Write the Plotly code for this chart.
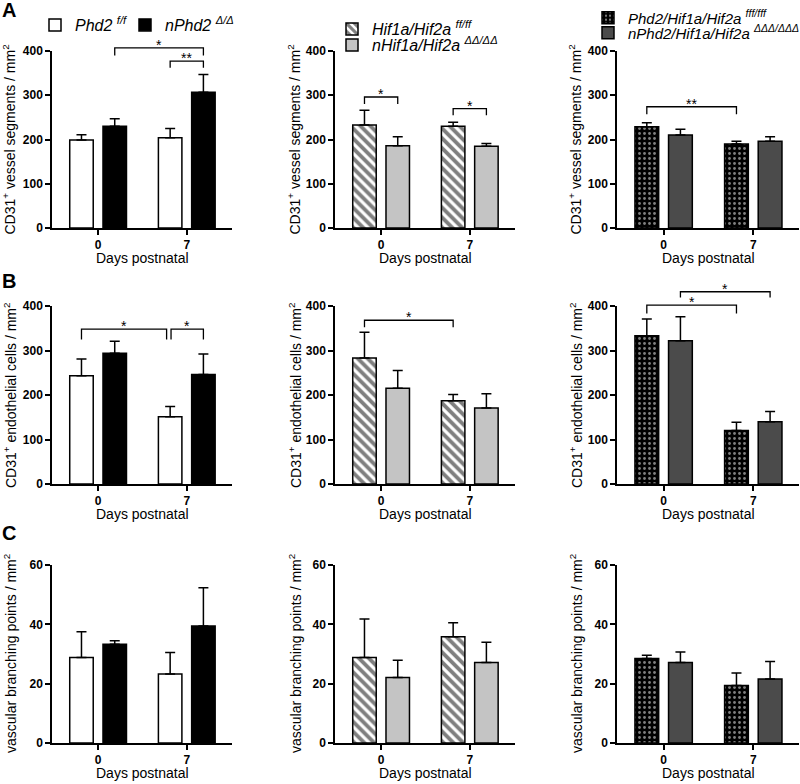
import plotly.graph_objects as go

# ---------------- data ----------------
days = ["0", "7"]

# Row A: CD31+ vessel segments / mm2
a_phd2_ff, a_phd2_ff_err = [199, 204], [12, 21]
a_nphd2, a_nphd2_err = [230, 307], [17, 40]
a_hif_ff, a_hif_ff_err = [233, 230], [33, 9]
a_nhif, a_nhif_err = [186, 185], [20, 6]
a_tko_ff, a_tko_ff_err = [229, 190], [9, 6]
a_ntko, a_ntko_err = [210, 196], [13, 10]

# Row B: CD31+ endothelial cells / mm2
b_phd2_ff, b_phd2_ff_err = [243, 151], [38, 23]
b_nphd2, b_nphd2_err = [294, 246], [27, 46]
b_hif_ff, b_hif_ff_err = [283, 187], [58, 14]
b_nhif, b_nhif_err = [215, 171], [40, 32]
b_tko_ff, b_tko_ff_err = [333, 120], [38, 19]
b_ntko, b_ntko_err = [322, 140], [54, 23]

# Row C: vascular branching points / mm2
c_phd2_ff, c_phd2_ff_err = [28.8, 23.3], [8.7, 7.2]
c_nphd2, c_nphd2_err = [33.3, 39.4], [1.2, 12.9]
c_hif_ff, c_hif_ff_err = [28.8, 35.8], [13.0, 4.7]
c_nhif, c_nhif_err = [22.1, 27.1], [5.8, 6.9]
c_tko_ff, c_tko_ff_err = [28.5, 19.4], [1.1, 4.2]
c_ntko, c_ntko_err = [27.1, 21.6], [3.6, 5.9]

series_genes = ["Phd2", "nPhd2", "Hif1a/Hif2a", "nHif1a/Hif2a",
                "Phd2/Hif1a/Hif2a", "nPhd2/Hif1a/Hif2a"]
series_genotypes = ["f/f", "Δ/Δ", "ff/ff", "ΔΔ/ΔΔ", "fff/fff", "ΔΔΔ/ΔΔΔ"]

y_titles = [
    "CD31<sup>+</sup> vessel segments / mm<sup>2</sup>",
    "CD31<sup>+</sup> endothelial cells / mm<sup>2</sup>",
    "vascular branching points / mm<sup>2</sup>",
]
y_ticks = [[0, 100, 200, 300, 400], [0, 100, 200, 300, 400], [0, 20, 40, 60]]
x_title = "Days postnatal"
panel_letters = ["A", "B", "C"]

# (row, col) -> [(values, errors), (values, errors)]
panels = {
    (0, 0): [(a_phd2_ff, a_phd2_ff_err), (a_nphd2, a_nphd2_err)],
    (0, 1): [(a_hif_ff, a_hif_ff_err), (a_nhif, a_nhif_err)],
    (0, 2): [(a_tko_ff, a_tko_ff_err), (a_ntko, a_ntko_err)],
    (1, 0): [(b_phd2_ff, b_phd2_ff_err), (b_nphd2, b_nphd2_err)],
    (1, 1): [(b_hif_ff, b_hif_ff_err), (b_nhif, b_nhif_err)],
    (1, 2): [(b_tko_ff, b_tko_ff_err), (b_ntko, b_ntko_err)],
    (2, 0): [(c_phd2_ff, c_phd2_ff_err), (c_nphd2, c_nphd2_err)],
    (2, 1): [(c_hif_ff, c_hif_ff_err), (c_nhif, c_nhif_err)],
    (2, 2): [(c_tko_ff, c_tko_ff_err), (c_ntko, c_ntko_err)],
}

# significance brackets: (row, col, (group, series) from, (group, series) to, top, leg, label)
brackets = [
    (0, 0, (0, 1), (1, 1), 407, 390, "*"),
    (0, 0, (1, 0), (1, 1), 377, 362, "**"),
    (0, 1, (0, 0), (0, 1), 296, 280, "*"),
    (0, 1, (1, 0), (1, 1), 270, 255, "*"),
    (0, 2, (0, 0), (1, 0), 274, 257, "**"),
    (1, 0, (0, 0), (0.96, 0), 348, 325, "*"),
    (1, 0, (1.01, 0), (1, 1), 348, 325, "*"),
    (1, 1, (0, 0), (1, 0), 368, 352, "*"),
    (1, 2, (0, 0), (1, 0), 402, 383, "*"),
    (1, 2, (0, 1), (1, 1), 432, 419, "*"),
]

# ---------------- styling ----------------
FONT = "Liberation Sans, Arial, sans-serif"
W, H = 800, 784
XR = [-0.52, 1.51]
BAR_W = 0.265
OFFS = [-0.32, 0.055]

col_dom = [(52, 232), (335, 515), (617, 799)]
row_dom = [(51, 228), (306, 484), (565, 743)]

styles = [
    dict(color="white", pattern=None),
    dict(color="black", pattern=None),
    dict(color="white", pattern=dict(shape="\\", fgcolor="black", bgcolor="white", size=7, solidity=0.55)),
    dict(color="#c4c4c4", pattern=None),
    dict(color="black", pattern=dict(shape=".", fgcolor="white", bgcolor="black", size=5, solidity=0.25)),
    dict(color="#4b4b4b", pattern=None),
]
# legend symbol centres (px) and font sizes
legend_pos = [
    (55, 25), (145, 25),
    (352, 29), (352, 45),
    (608, 18), (608, 33),
]
legend_font = [16, 16, 16, 16, 15, 15]

fig = go.Figure()
layout_axes = {}
shapes = []
annotations = []


def sfx(r, c):
    k = r * 3 + c
    return "" if k == 0 else str(k + 1)


def legend_name(gene, geno):
    return '<i>%s</i> <sup><i>%s</i></sup>' % (gene, geno)


tickfont = dict(family=FONT, size=12, color="black", weight="bold")

for (r, c), pair in panels.items():
    s = sfx(r, c)
    for si, (vals, errs) in enumerate(pair):
        gi = c * 2 + si
        st = styles[gi]
        marker = dict(color=st["color"], line=dict(color="black", width=1.5))
        if st["pattern"] is not None:
            marker["pattern"] = st["pattern"]
        show = r == 0
        legend_id = "legend" if gi == 0 else "legend%d" % (gi + 1)
        fig.add_trace(go.Bar(
            x=days, y=vals, width=BAR_W, offset=OFFS[si],
            marker=marker,
            error_y=dict(type="data", symmetric=False, array=errs, arrayminus=[0] * len(errs),
                         color="black", thickness=1.5, width=5),
            name=legend_name(series_genes[gi], series_genotypes[gi]),
            showlegend=show, legend=legend_id,
            xaxis="x" + s, yaxis="y" + s,
        ))
    x0, x1 = col_dom[c]
    y0, y1 = row_dom[r]
    yt = y_ticks[r]
    layout_axes["xaxis" + s] = dict(
        domain=[x0 / W, x1 / W], anchor="y" + s, type="category", range=XR,
        tickvals=days, ticktext=["<b>%s</b>" % d for d in days],
        showline=True, linecolor="black", linewidth=1.5, ticks="outside", ticklen=5,
        tickwidth=1.5, tickcolor="black", showgrid=False, zeroline=False,
        tickfont=tickfont, automargin=False,
    )
    layout_axes["yaxis" + s] = dict(
        domain=[1 - y1 / H, 1 - y0 / H], anchor="x" + s, range=[yt[0], yt[-1]],
        tickvals=yt, ticktext=["<b>%d</b>" % v for v in yt],
        showline=True, linecolor="black", linewidth=1.5, ticks="outside", ticklen=5,
        tickwidth=1.5, tickcolor="black", showgrid=False, zeroline=False,
        tickfont=tickfont, automargin=False,
    )
    # axis titles
    ytx = [10, 295, 576][c]
    annotations.append(dict(
        text=y_titles[r], xref="paper", yref="paper", x=ytx / W, y=1 - ((y0 + y1) / 2) / H,
        xanchor="center", yanchor="middle", textangle=-90, showarrow=False,
        font=dict(family=FONT, size=14, color="black"),
    ))
    annotations.append(dict(
        text=x_title, xref="paper", yref="paper", x=((x0 + x1) / 2) / W, y=1 - (y1 + 30) / H,
        xanchor="center", yanchor="middle", showarrow=False,
        font=dict(family=FONT, size=14, color="black"),
    ))


def bar_center(g, si):
    return g + OFFS[si] + BAR_W / 2


for (r, c, a, b, top, leg, label) in brackets:
    s = sfx(r, c)
    ym = y_ticks[r][-1]
    xa = (bar_center(*a) - XR[0]) / (XR[1] - XR[0])
    xb = (bar_center(*b) - XR[0]) / (XR[1] - XR[0])
    yt_, yl_ = top / ym, leg / ym
    shapes.append(dict(
        type="path", xref="x%s domain" % s, yref="y%s domain" % s,
        path="M %f,%f L %f,%f L %f,%f L %f,%f" % (xa, yl_, xa, yt_, xb, yt_, xb, yl_),
        line=dict(color="black", width=1.3),
    ))
    annotations.append(dict(
        text=label, xref="x%s domain" % s, yref="y%s domain" % s, x=(xa + xb) / 2, y=yt_,
        xanchor="center", yanchor="middle", yshift=3, showarrow=False,
        font=dict(family=FONT, size=14, color="black"),
    ))

for letter, ytop in zip(panel_letters, [-3, 268, 520]):
    annotations.append(dict(
        text="<b>%s</b>" % letter, xref="paper", yref="paper", x=0, y=1 - ytop / H,
        xanchor="left", yanchor="top", showarrow=False,
        font=dict(family=FONT, size=20, color="black"),
    ))

legends = {}
for i, (lx, ly) in enumerate(legend_pos):
    key = "legend" if i == 0 else "legend%d" % (i + 1)
    legends[key] = dict(
        xref="container", yref="container",
        x=(lx - 20) / W, y=1 - ly / H, xanchor="left", yanchor="middle",
        bgcolor="rgba(0,0,0,0)", borderwidth=0,
        font=dict(family=FONT, size=legend_font[i], color="black"),
    )

fig.update_layout(
    width=W, height=H, margin=dict(l=0, r=0, t=0, b=0, autoexpand=False),
    paper_bgcolor="white", plot_bgcolor="white",
    barmode="overlay", shapes=shapes, annotations=annotations,
    font=dict(family=FONT, color="black"),
    **layout_axes, **legends,
)

fig.write_html("out.html", config={"displayModeBar": False},
               post_script="document.body.style.margin='0px';")
